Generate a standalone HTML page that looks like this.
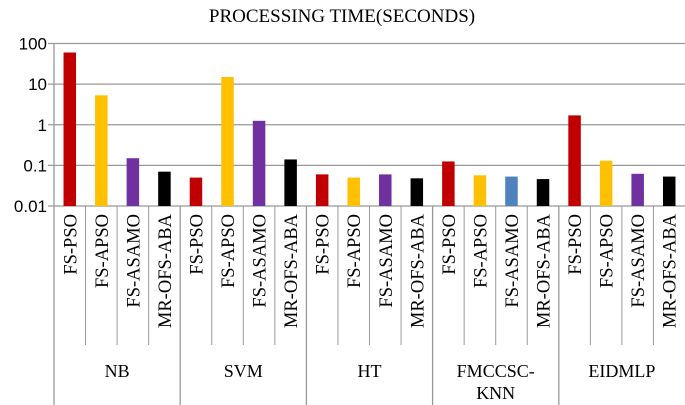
<!DOCTYPE html>
<html><head><meta charset="utf-8"><style>
html,body{margin:0;padding:0;background:#fff;width:685px;height:405px;overflow:hidden}
svg{display:block}
</style></head><body>
<svg id="chart" width="685" height="405" xmlns="http://www.w3.org/2000/svg">
<text x="342" y="22" text-anchor="middle" font-family="Liberation Serif, serif" font-size="19">PROCESSING TIME(SECONDS)</text>
<g id="grid"></g><g id="bars"></g><g id="axes"></g>
</svg>
<script>
const groups = ["NB","SVM","HT","FMCCSC-KNN","EIDMLP"];
const methods = ["FS-PSO","FS-APSO","FS-ASAMO","MR-OFS-ABA"];
const valNB = [60, 5.3, 0.15, 0.07];
const valSVM = [0.05, 15, 1.25, 0.14];
const valHT = [0.06, 0.05, 0.06, 0.048];
const valFMCCSC = [0.125, 0.057, 0.053, 0.046];
const valEIDMLP = [1.7, 0.13, 0.062, 0.053];
const yTicks = [100, 10, 1, 0.1, 0.01];
const yTickLabels = ["100","10","1","0.1","0.01"];
const values = [valNB, valSVM, valHT, valFMCCSC, valEIDMLP];
const colors = ["#C00000","#FFC000","#7030A0","#000000"];

const NS="http://www.w3.org/2000/svg";
const x0=54, x1=685, yTop=43.5, yBot=206;
const yMin=0.01, yMax=100;
function y(v){return yBot-(Math.log10(v)-Math.log10(yMin))/(Math.log10(yMax)-Math.log10(yMin))*(yBot-yTop);}
const groupW=(x1-x0)/groups.length, slotW=groupW/methods.length, barW=12.5;
function slotX(g,m){return x0+g*groupW+m*slotW;}
function mk(tag,attrs,parent){const e=document.createElementNS(NS,tag);for(const k in attrs)e.setAttribute(k,attrs[k]);parent.appendChild(e);return e;}
const grid=document.getElementById('grid'),bars=document.getElementById('bars'),axes=document.getElementById('axes');
yTicks.forEach((t,i)=>{
  const l=mk('line',{x1:x0-6,x2:x1,y1:y(t),y2:y(t),stroke:'#999','stroke-width':1.3},grid);
  
  
  const tx=mk('text',{x:x0-7,y:y(t)+6,'text-anchor':'end','font-family':'Liberation Sans, sans-serif','font-size':17},axes);
  tx.textContent=yTickLabels[i];
  
  
});
values.forEach((arr,g)=>{
  arr.forEach((v,m)=>{
    const cx=slotX(g,m)+slotW/2;
    const col=(g===3&&m===2)?"#4F81BD":colors[m];
    const r=mk('rect',{x:cx-barW/2,y:y(v),width:barW,height:yBot-y(v),fill:col},bars);
    
    
    const t=mk('text',{transform:`translate(${cx+6.5},${214}) rotate(-90)`,'text-anchor':'end','font-family':'Liberation Serif, serif','font-size':18.5},axes);
    t.textContent=methods[m];
    
    
    if(m>0){
      const d=mk('line',{x1:slotX(g,m),x2:slotX(g,m),y1:yBot,y2:345,stroke:'#999','stroke-width':1},axes);
      
      
    }
  });
  const gx=x0+g*groupW;
  const b=mk('line',{x1:gx,x2:gx,y1:yBot,y2:405,stroke:'#999','stroke-width':1.3},axes);
  
  
  const name=groups[g];
  const parts=name==="FMCCSC-KNN"?["FMCCSC-","KNN"]:[name];
  parts.forEach((p,i)=>{
    const t=mk('text',{x:gx+groupW/2,y:377+i*22,'text-anchor':'middle','font-family':'Liberation Serif, serif','font-size':18},axes);
    t.textContent=p;
    
    
  });
});
const ax=mk('line',{x1:x0,x2:x0,y1:yTop,y2:yBot,stroke:'#999','stroke-width':1.3},axes);


</script>
</body></html>
